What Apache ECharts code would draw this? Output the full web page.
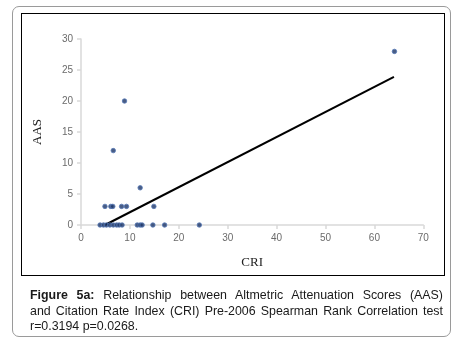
<!DOCTYPE html>
<html>
<head>
<meta charset="utf-8">
<script src="https://cdn.jsdelivr.net/npm/echarts@6/dist/echarts.min.js"></script>
<style>
  html, body { margin: 0; padding: 0; background: #fff; }
  body { width: 462px; height: 343px; position: relative; overflow: hidden; }
  .outer {
    position: absolute; left: 12px; top: 6px; width: 439px; height: 331px;
    border: 1px solid #9a9a9a; border-radius: 7px; box-sizing: border-box;
  }
  .inner {
    position: absolute; left: 21px; top: 13px; width: 424px; height: 263px;
    border: 1px solid #000; box-sizing: border-box;
  }
  #chart { position: absolute; left: 0; top: 0; width: 462px; height: 343px; }
  .caption {
    position: absolute; left: 30px; top: 288px; width: 413px;
    font-family: "Liberation Sans", Arial, sans-serif; font-size: 12.4px;
    line-height: 15.5px; color: #1a1a1a;
  }
  .caption div { text-align: justify; text-align-last: justify; white-space: nowrap; }
  .caption div.last { text-align-last: left; }
</style>
</head>
<body>
<div class="outer"></div>
<div class="inner"></div>
<div id="chart"></div>
<div class="caption">
  <div><b>Figure 5a:</b> Relationship between Altmetric Attenuation Scores (AAS)</div>
  <div>and Citation Rate Index (CRI) Pre-2006 Spearman Rank Correlation test</div>
  <div class="last">r=0.3194 p=0.0268.</div>
</div>
<script>
// CRI (x) and AAS (y) for each article
const cri = [8.9, 6.6, 12.1, 4.9, 6.1, 6.5, 8.3, 9.3, 14.9,
  3.9, 4.6, 5.2, 5.9, 6.6, 7.3, 7.8, 8.4, 11.5, 12.1, 12.5, 14.7, 17.1, 24.2, 64.1];
const aas = [20, 12, 6, 3, 3, 3, 3, 3, 3,
  0, 0, 0, 0, 0, 0, 0, 0, 0, 0, 0, 0, 0, 0, 28];
// linear trend line end points
const trendX = [4.9, 64];
const trendY = [0, 23.9];

const xTicks = { min: 0, max: 70, interval: 10 };
const yTicks = { min: 0, max: 30, interval: 5 };

const points = cri.map((x, i) => [x, aas[i]]);
const trend = trendX.map((x, i) => [x, trendY[i]]);

const chart = echarts.init(document.getElementById('chart'));
const axisColor = '#d9d9d9';
const labelStyle = { color: '#6b6b6b', fontSize: 10, fontFamily: 'Liberation Sans, Arial' };

chart.setOption({
  animation: false,
  grid: { left: 81, top: 39, width: 342.3, height: 186 },
  xAxis: {
    type: 'value',
    min: xTicks.min, max: xTicks.max, interval: xTicks.interval,
    name: 'CRI', nameLocation: 'middle', nameGap: 31,
    nameTextStyle: { fontFamily: 'Liberation Serif, Times New Roman', fontSize: 13, color: '#222' },
    axisLine: { show: true, lineStyle: { color: axisColor, width: 1.5 } },
    axisTick: { show: true, length: 4, lineStyle: { color: axisColor, width: 1.5 } },
    axisLabel: Object.assign({ margin: 8 }, labelStyle),
    splitLine: { show: false },
  },
  yAxis: {
    type: 'value',
    min: yTicks.min, max: yTicks.max, interval: yTicks.interval,
    name: 'AAS', nameLocation: 'middle', nameGap: 37,
    nameTextStyle: { fontFamily: 'Liberation Serif, Times New Roman', fontSize: 13, color: '#222' },
    axisLine: { show: true, lineStyle: { color: axisColor, width: 1.5 } },
    axisTick: { show: true, length: 4, lineStyle: { color: axisColor, width: 1.5 } },
    axisLabel: Object.assign({ margin: 8 }, labelStyle),
    splitLine: { show: false },
  },
  series: [
    {
      type: 'line',
      data: trend,
      showSymbol: false,
      lineStyle: { color: '#000', width: 2 },
      z: 1,
    },
    {
      type: 'scatter',
      data: points,
      symbolSize: 4.5,
      itemStyle: { color: '#1b3566', borderColor: '#5578b5', borderWidth: 1 },
      z: 2,
    },
  ],
});
</script>
</body>
</html>
